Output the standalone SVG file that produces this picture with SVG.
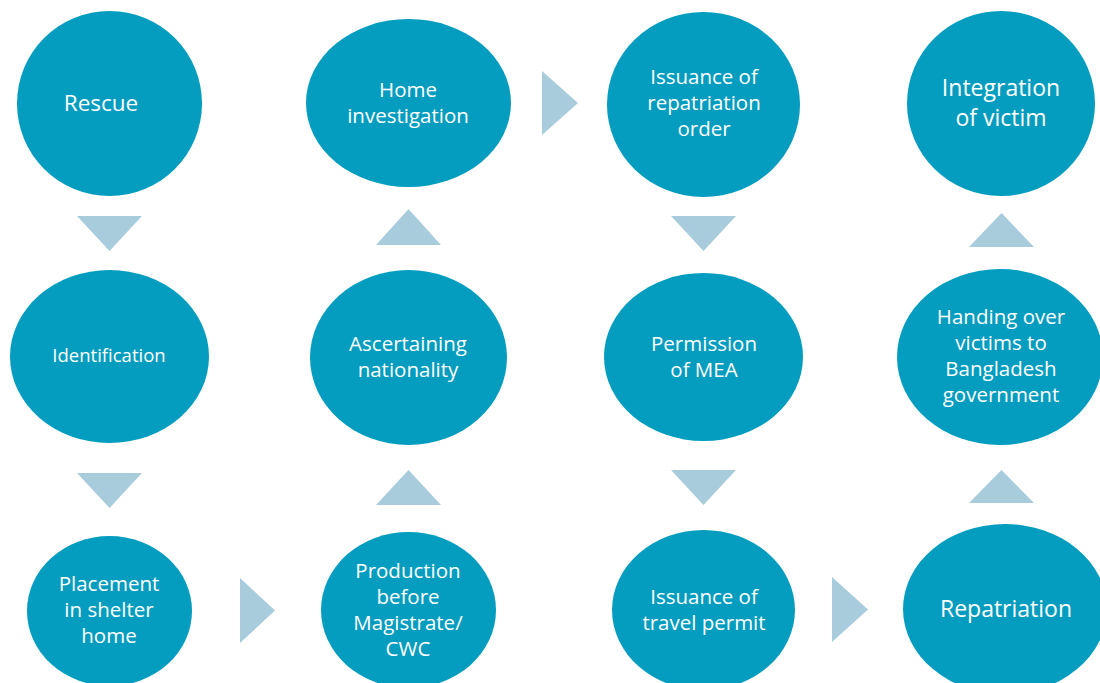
<svg xmlns="http://www.w3.org/2000/svg" width="1100" height="683" viewBox="0 0 1100 683">
  <style>
    .node ellipse { fill: #049DBF; }
    .node text { fill: #ffffff; font-family: "Open Sans", "Noto Sans", sans-serif; font-size: 20.5px; text-anchor: middle; }
    .arrow { fill: #A9CCDC; }
  </style>
  <rect width="1100" height="683" fill="#ffffff"/>

  <!-- flow arrows -->
  <g id="connectors">
    <polygon class="arrow" points="77,216 142,216 109.5,251"/>
    <polygon class="arrow" points="77,473 142,473 109.5,508"/>
    <polygon class="arrow" points="240,578 240,643 275,610.5"/>
    <polygon class="arrow" points="376,505 441,505 408.5,470"/>
    <polygon class="arrow" points="376,245 441,245 408.5,209"/>
    <polygon class="arrow" points="542,71 542,135 578,103"/>
    <polygon class="arrow" points="671,216 736,216 703.5,251"/>
    <polygon class="arrow" points="671,470 736,470 703.5,505"/>
    <polygon class="arrow" points="832,577 832,642 868,609.5"/>
    <polygon class="arrow" points="969,503 1034,503 1001.5,470"/>
    <polygon class="arrow" points="969,247 1034,247 1001.5,213"/>
  </g>

  <!-- column 1 -->
  <g id="rescue" class="node">
    <ellipse cx="109.5" cy="103.5" rx="92.5" ry="92.5"/>
    <text x="101" y="111" style="font-size:22.5px">Rescue</text>
  </g>
  <g id="identification" class="node">
    <ellipse cx="109.5" cy="356.5" rx="99.5" ry="86.5"/>
    <text x="109" y="362" style="font-size:18.5px">Identification</text>
  </g>
  <g id="placement" class="node">
    <ellipse cx="109.5" cy="611" rx="82.5" ry="75"/>
    <text x="109" y="591">Placement</text>
    <text x="109" y="617">in shelter</text>
    <text x="109" y="643">home</text>
  </g>

  <!-- column 2 -->
  <g id="production" class="node">
    <ellipse cx="408.5" cy="610" rx="87.5" ry="78"/>
    <text x="408" y="578">Production</text>
    <text x="408" y="604">before</text>
    <text x="408" y="630">Magistrate/</text>
    <text x="408" y="656">CWC</text>
  </g>
  <g id="nationality" class="node">
    <ellipse cx="408.5" cy="357.5" rx="98.5" ry="87.5"/>
    <text x="408" y="351">Ascertaining</text>
    <text x="408" y="377">nationality</text>
  </g>
  <g id="home-investigation" class="node">
    <ellipse cx="408.5" cy="103" rx="102.5" ry="84"/>
    <text x="408" y="97">Home</text>
    <text x="408" y="123">investigation</text>
  </g>

  <!-- column 3 -->
  <g id="repatriation-order" class="node">
    <ellipse cx="703.5" cy="104.5" rx="96.5" ry="92.5"/>
    <text x="704" y="84">Issuance of</text>
    <text x="704" y="110">repatriation</text>
    <text x="704" y="136">order</text>
  </g>
  <g id="mea" class="node">
    <ellipse cx="703.5" cy="357" rx="99.5" ry="84"/>
    <text x="704" y="351">Permission</text>
    <text x="704" y="377">of MEA</text>
  </g>
  <g id="travel-permit" class="node">
    <ellipse cx="703.5" cy="610" rx="91.5" ry="80"/>
    <text x="704" y="604">Issuance of</text>
    <text x="704" y="630">travel permit</text>
  </g>

  <!-- column 4 -->
  <g id="repatriation" class="node">
    <ellipse cx="1005" cy="609" rx="102" ry="85"/>
    <text x="1006" y="617" style="font-size:23px">Repatriation</text>
  </g>
  <g id="handing-over" class="node">
    <ellipse cx="1000" cy="357" rx="103" ry="88"/>
    <text x="1001" y="324">Handing over</text>
    <text x="1001" y="350">victims to</text>
    <text x="1001" y="376">Bangladesh</text>
    <text x="1001" y="402">government</text>
  </g>
  <g id="integration" class="node">
    <ellipse cx="1001" cy="103.5" rx="94" ry="92.5"/>
    <text x="1001" y="96" style="font-size:23px">Integration</text>
    <text x="1001" y="126" style="font-size:23px">of victim</text>
  </g>
</svg>
